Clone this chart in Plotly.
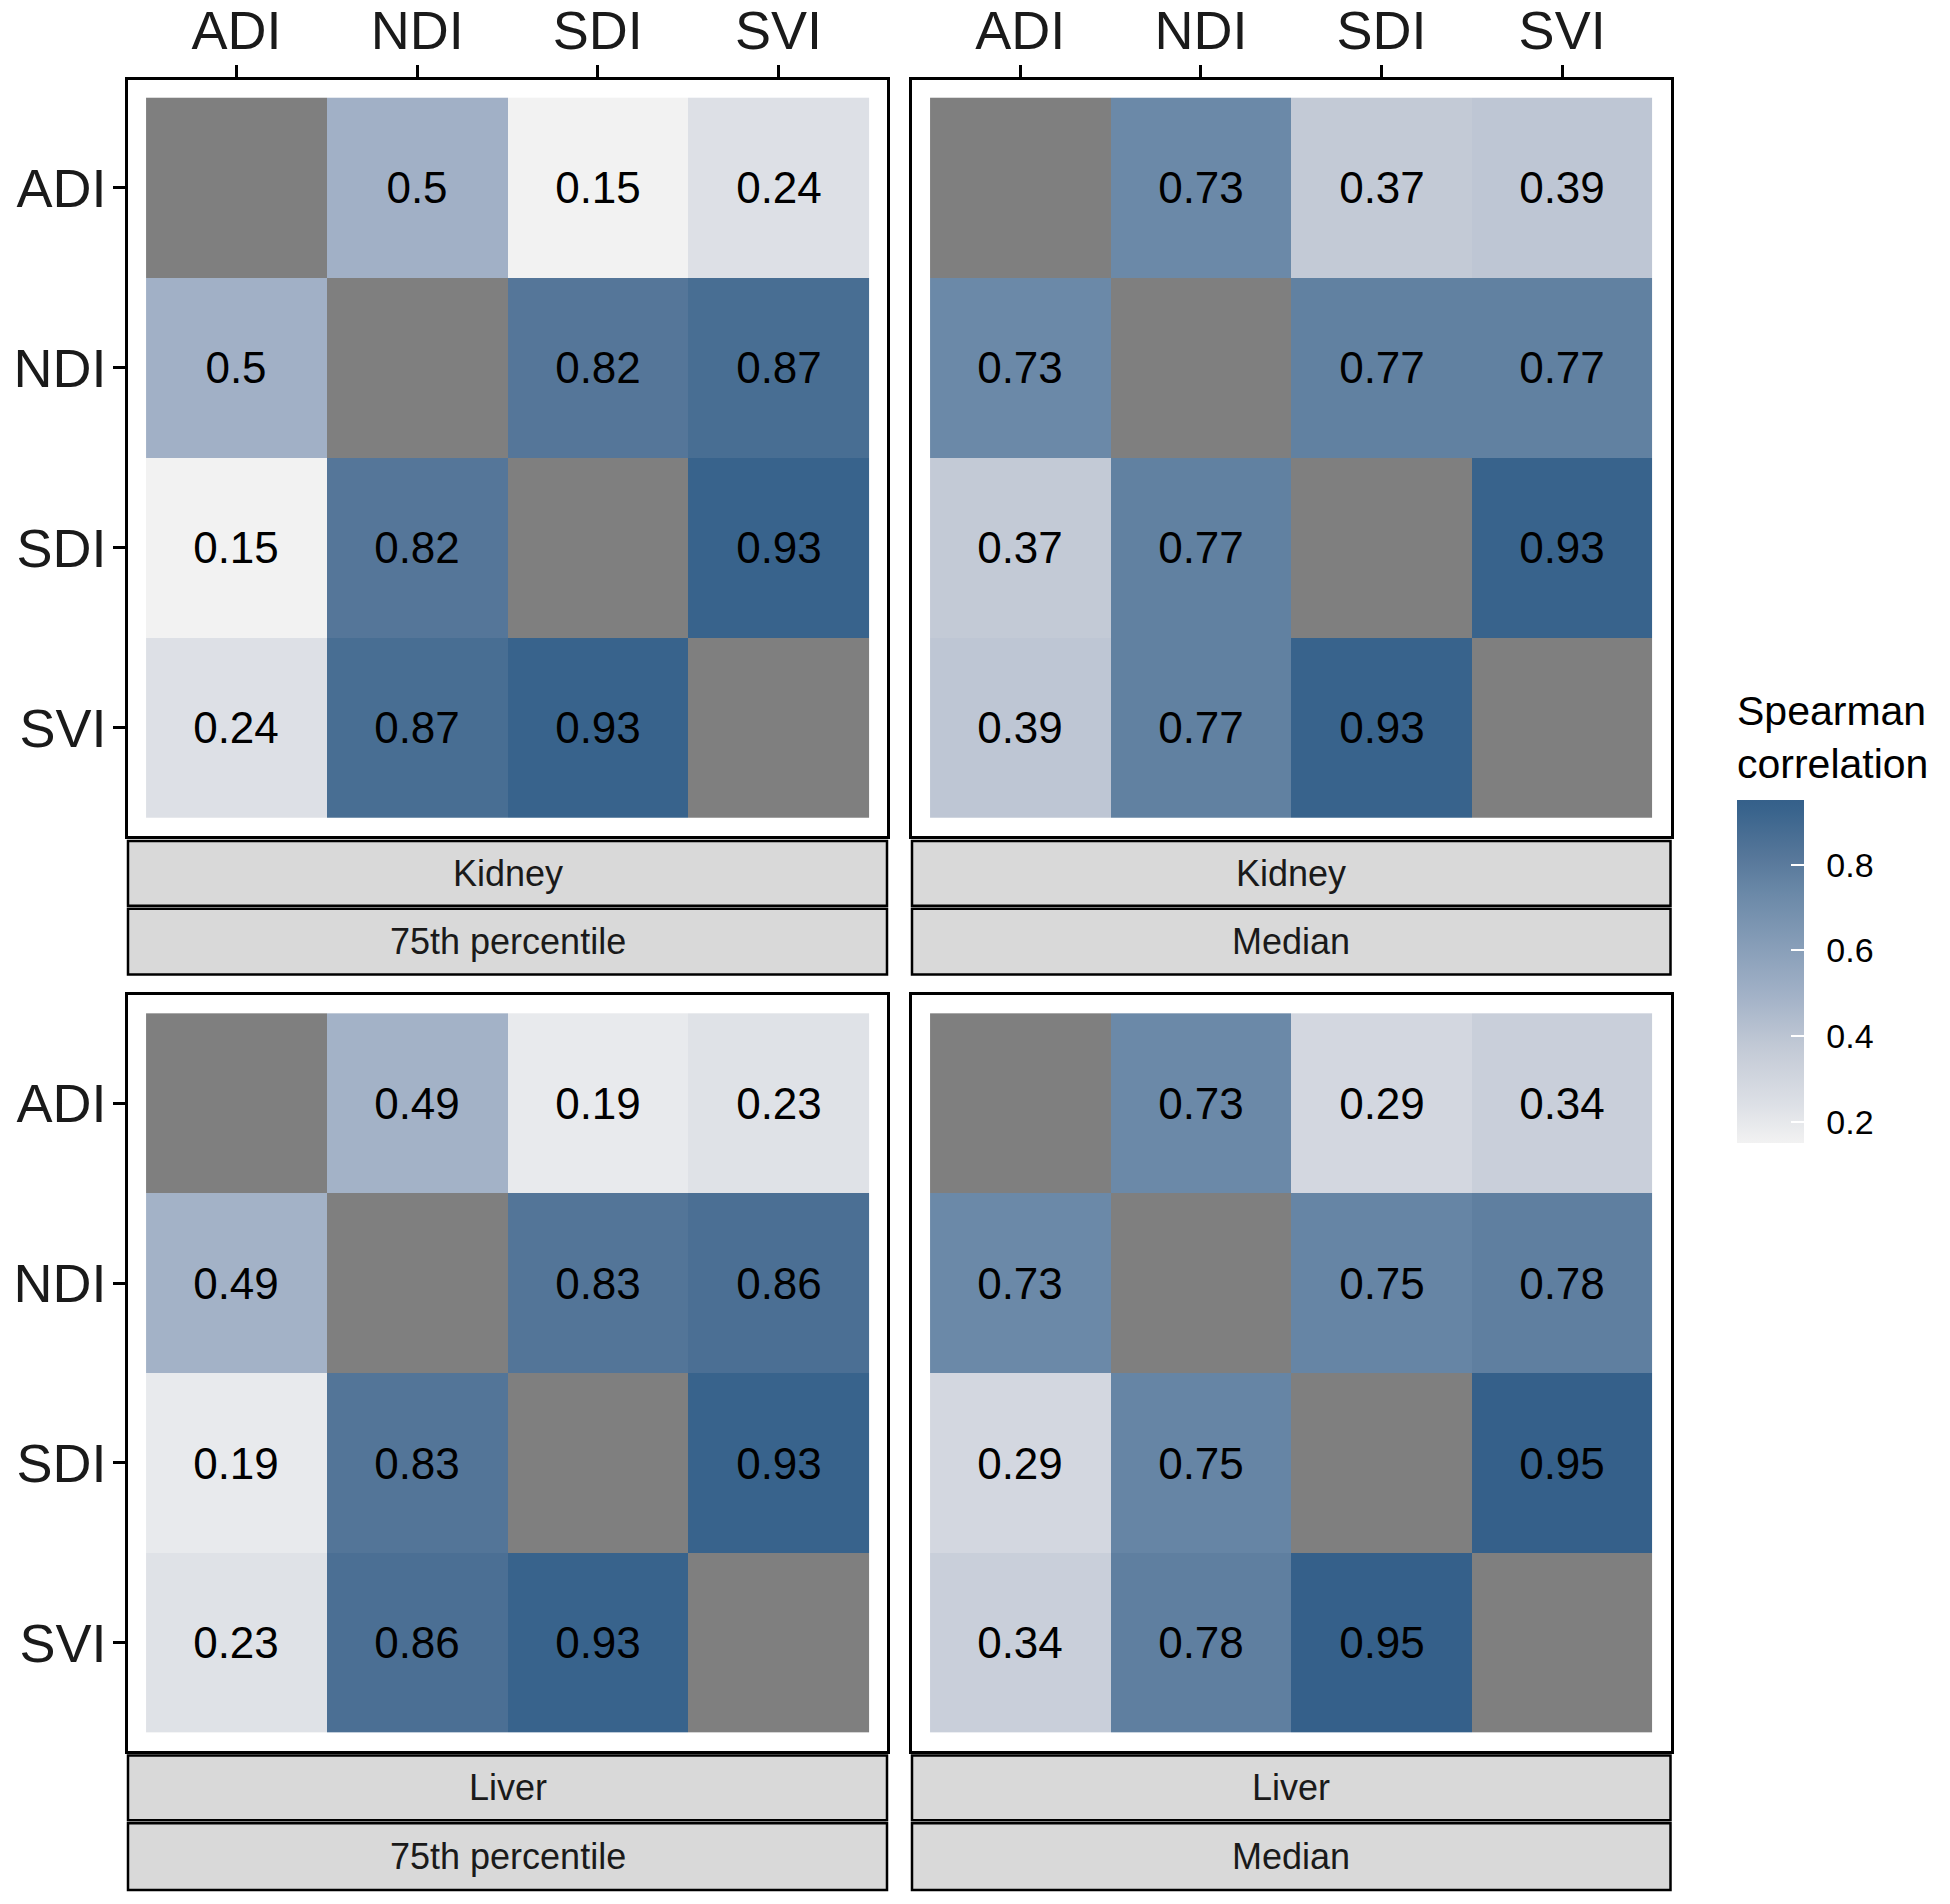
import math
import plotly.graph_objects as go

NaN = float("nan")
indices = ["ADI", "NDI", "SDI", "SVI"]

kidney_p75 = [[NaN, 0.50, 0.15, 0.24],
              [0.50, NaN, 0.82, 0.87],
              [0.15, 0.82, NaN, 0.93],
              [0.24, 0.87, 0.93, NaN]]
kidney_median = [[NaN, 0.73, 0.37, 0.39],
                 [0.73, NaN, 0.77, 0.77],
                 [0.37, 0.77, NaN, 0.93],
                 [0.39, 0.77, 0.93, NaN]]
liver_p75 = [[NaN, 0.49, 0.19, 0.23],
             [0.49, NaN, 0.83, 0.86],
             [0.19, 0.83, NaN, 0.93],
             [0.23, 0.86, 0.93, NaN]]
liver_median = [[NaN, 0.73, 0.29, 0.34],
                [0.73, NaN, 0.75, 0.78],
                [0.29, 0.75, NaN, 0.95],
                [0.34, 0.78, 0.95, NaN]]

panels = [
    ("Kidney", "75th percentile", kidney_p75),
    ("Kidney", "Median", kidney_median),
    ("Liver", "75th percentile", liver_p75),
    ("Liver", "Median", liver_median),
]
colorbar_ticks = [0.2, 0.4, 0.6, 0.8]

W, H = 1950, 1904
FONT = "Liberation Sans, Arial, sans-serif"

allvals = [v for _, _, m in panels for row in m for v in row if not math.isnan(v)]
zmin, zmax = min(allvals), max(allvals)

colorscale = [
    [0.00, "#f2f2f2"],
    [0.11, "#dde0e6"],
    [0.275, "#c3cad6"],
    [0.44, "#a0b0c6"],
    [0.725, "#6b89a8"],
    [0.84, "#557699"],
    [0.975, "#38638c"],
    [1.00, "#35608a"],
]

# layout boxes in pixels
col_x = [(128, 887), (912, 1670.5)]
row_y = [(73, 832), (992, 1750)]
strip_rows = [[(837, 902), (905, 971)], [(1755, 1820), (1823, 1890)]]

def px(x):
    return x / W

def py(y):
    return 1 - y / H

cb_common = dict(
    lenmode="pixels", len=343, thickness=67, xpad=0, ypad=0,
    x=px(1737), xanchor="left", y=py(968.5), yanchor="middle",
    outlinewidth=0, tickvals=colorbar_ticks,
    tickfont=dict(size=34, color="black", family=FONT),
)

fig = go.Figure()
shapes = []
annotations = []

for i, (organ, stat, mat) in enumerate(panels):
    r, c = divmod(i, 2)
    ax = "" if i == 0 else str(i + 1)
    text = [["" if math.isnan(v) else f"{v:g}" for v in row] for row in mat]
    diag = [[1.0 if math.isnan(v) else NaN for v in row] for row in mat]
    fig.add_trace(go.Heatmap(
        z=mat, x=indices, y=indices, text=text, texttemplate="%{text}",
        textfont=dict(size=44, color="black", family=FONT),
        colorscale=colorscale, zmin=zmin, zmax=zmax,
        showscale=(i == 0), xaxis="x" + ax, yaxis="y" + ax,
        hoverongaps=False,
        colorbar=dict(cb_common, ticks="outside", ticklen=16,
                      tickcolor="rgba(0,0,0,0)"),
    ))
    fig.add_trace(go.Heatmap(
        z=diag, x=indices, y=indices,
        colorscale=[[0, "#7f7f7f"], [1, "#7f7f7f"]], showscale=False,
        xaxis="x" + ax, yaxis="y" + ax, hoverinfo="skip",
    ))
    x0, x1 = col_x[c]
    y0, y1 = row_y[r]
    fig.layout["xaxis" + ax] = dict(
        domain=[px(x0), px(x1)], anchor="y" + ax, side="top",
        range=[-0.6, 3.6], showgrid=False, zeroline=False,
        showline=True, mirror=True, linecolor="black", linewidth=2.5,
        ticks="outside" if r == 0 else "", ticklen=12, tickwidth=2.5, tickcolor="black",
        showticklabels=(r == 0), ticklabelstandoff=-6,
        tickfont=dict(size=54, color="#1a1a1a", family=FONT),
    )
    fig.layout["yaxis" + ax] = dict(
        domain=[py(y1), py(y0)], anchor="x" + ax,
        range=[3.6, -0.6], showgrid=False, zeroline=False,
        showline=True, mirror=True, linecolor="black", linewidth=2.5,
        ticks="outside" if c == 0 else "", ticklen=12, tickwidth=2.5, tickcolor="black",
        showticklabels=(c == 0), ticklabelstandoff=-4,
        tickfont=dict(size=54, color="#1a1a1a", family=FONT),
    )
    for (sy0, sy1), label in zip(strip_rows[r], [organ, stat]):
        shapes.append(dict(
            type="rect", xref="paper", yref="paper",
            x0=px(x0), x1=px(x1), y0=py(sy1), y1=py(sy0),
            fillcolor="#d9d9d9", line=dict(color="black", width=2.5), layer="below",
        ))
        annotations.append(dict(
            x=px((x0 + x1) / 2), y=py((sy0 + sy1) / 2), xref="paper", yref="paper",
            text=label, showarrow=False, xanchor="center", yanchor="middle",
            font=dict(size=36, color="#1a1a1a", family=FONT),
        ))

# overlay colorbar: white tick marks drawn inside the bar (ggplot style)
fig.add_trace(go.Heatmap(
    z=kidney_p75, x=indices, y=indices, colorscale=colorscale, zmin=zmin, zmax=zmax,
    opacity=0, hoverinfo="skip", xaxis="x5", yaxis="y5", showscale=True,
    colorbar=dict(cb_common, ticks="inside", ticklen=13, tickcolor="white",
                  tickwidth=2, showticklabels=False),
))
fig.layout["xaxis5"] = dict(domain=[0.0, 0.01], anchor="y5", visible=False)
fig.layout["yaxis5"] = dict(domain=[0.0, 0.01], anchor="x5", visible=False)

annotations.append(dict(
    x=px(1735), y=py(733), xref="paper", yref="paper",
    text="Spearman<br>correlation", showarrow=False, xanchor="left", yanchor="middle",
    align="left", font=dict(size=41, color="black", family=FONT),
))

fig.update_layout(
    width=W, height=H, margin=dict(l=0, r=0, t=0, b=0),
    paper_bgcolor="white", plot_bgcolor="white",
    shapes=shapes, annotations=annotations, showlegend=False,
    font=dict(family=FONT),
)

fig.write_html("out.html", config={"displayModeBar": False},
               post_script="document.body.style.margin='0';")
